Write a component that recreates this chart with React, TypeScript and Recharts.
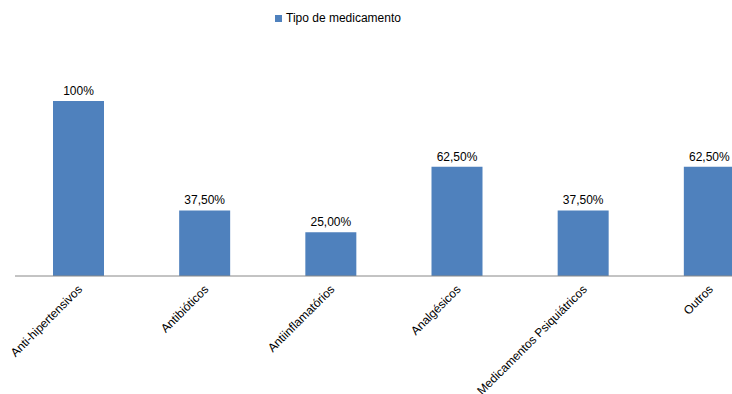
import { BarChart, Bar, XAxis, YAxis, Legend, LabelList } from "recharts";

const categories = [
  "Anti-hipertensivos",
  "Antibióticos",
  "Antiinflamatórios",
  "Analgésicos",
  "Medicamentos Psiquiátricos",
  "Outros",
];
const values = [100, 37.5, 25, 62.5, 37.5, 62.5];

const data = categories.map((name, i) => ({ name, value: values[i] }));

const FONT = "'Liberation Sans', Arial, sans-serif";

const formatPct = (v: number) => (v === 100 ? "100%" : v.toFixed(2).replace(".", ",") + "%");

const RotatedTick = (props: any) => {
  const { x, y, payload } = props;
  return (
    <g transform={`translate(${x - 1},${y})`}>
      <text
        transform="rotate(-45)"
        textAnchor="end"
        dy="0.7em"
        fontSize={12}
        fontFamily={FONT}
        fill="#000"
      >
        {payload.value}
      </text>
    </g>
  );
};

export default function App() {
  return (
    <div style={{ position: "absolute", left: 0, top: 0, width: 732, height: 394, overflow: "hidden" }}>
      <BarChart
        width={772}
        height={394}
        data={data}
        margin={{ top: 87, right: 0, left: 15, bottom: 0 }}
        style={{ fontFamily: FONT }}
      >
        <XAxis
          dataKey="name"
          interval={0}
          tickLine={false}
          axisLine={{ stroke: "#888888" }}
          height={118}
          tick={<RotatedTick />}
        />
        <YAxis hide domain={[0, 100]} />
        <Legend
          verticalAlign="top"
          align="left"
          iconType="square"
          iconSize={7}
          wrapperStyle={{ position: "absolute", top: 11, left: 275, width: 200, fontSize: 12, fontFamily: FONT }}
          formatter={(v: string) => <span style={{ color: "#000" }}>{v}</span>}
        />
        <Bar dataKey="value" name="Tipo de medicamento" fill="#4F81BD" barSize={51} isAnimationActive={false}>
          <LabelList
            dataKey="value"
            position="top"
            offset={6}
            formatter={(v: any) => formatPct(Number(v))}
            style={{ fontSize: 12, fill: "#000", fontFamily: FONT }}
          />
        </Bar>
      </BarChart>
    </div>
  );
}
